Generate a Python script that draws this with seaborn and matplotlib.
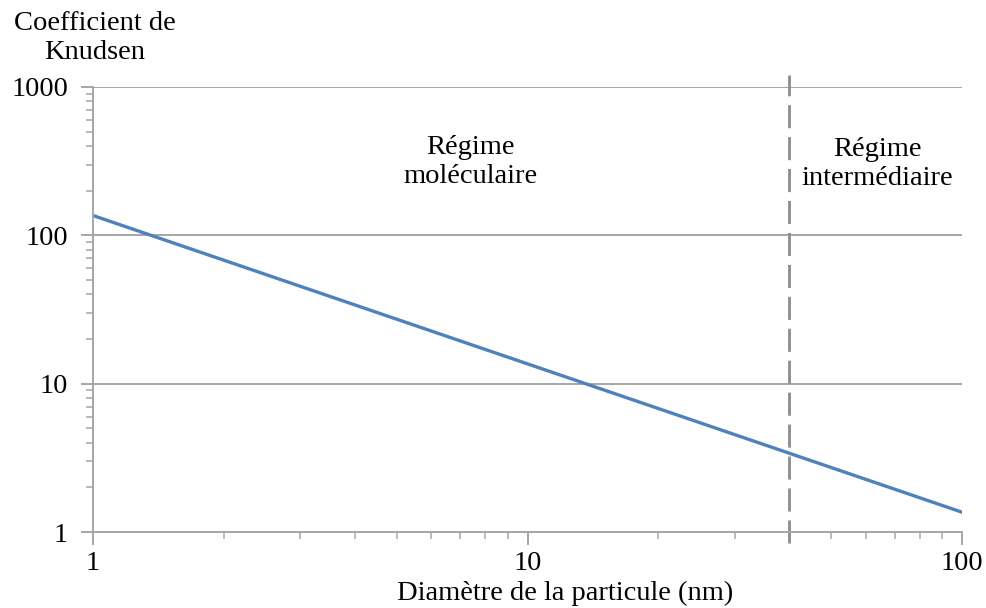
import numpy as np
import pandas as pd
import matplotlib
matplotlib.use("Agg")
import matplotlib.pyplot as plt
import seaborn as sns
from matplotlib.ticker import LogLocator, NullFormatter, FixedLocator, FixedFormatter

# Knudsen number vs particle diameter
diametre = [1, 100]
knudsen = [136, 1.36]
limite_regime = 40
x_ticks = [1, 10, 100]
y_ticks = [1, 10, 100, 1000]

BLUE = "#4F81BD"
GREY = "#A6A6A6"
FS = 20.5

sns.set_theme(style="white")
plt.rcParams['font.family'] = ['Liberation Serif', 'DejaVu Serif']
plt.rcParams['text.color'] = 'black'

fig = plt.figure(figsize=(9.86, 6.08), dpi=100)
ax = fig.add_axes([93 / 986, 1 - 532 / 608, 869 / 986, 445 / 608])

data = pd.DataFrame({'d': diametre, 'kn': knudsen})
sns.lineplot(data=data, x='d', y='kn', ax=ax, color=BLUE, linewidth=2.4)
ax.axvline(limite_regime, ymin=-11 / 445, ymax=1 + 12 / 445, clip_on=False,
           color="#8C8C8C", linewidth=2.0, dashes=(8.3, 3.2))

ax.set_xscale('log')
ax.set_yscale('log')
ax.set_xlim(1, 100)
ax.set_ylim(1, 1000)

ax.xaxis.set_major_locator(FixedLocator(x_ticks))
ax.xaxis.set_major_formatter(FixedFormatter([str(v) for v in x_ticks]))
ax.yaxis.set_major_locator(FixedLocator(y_ticks))
ax.yaxis.set_major_formatter(FixedFormatter([str(v) for v in y_ticks]))
ax.xaxis.set_minor_locator(LogLocator(base=10, subs=np.arange(2, 10)))
ax.yaxis.set_minor_locator(LogLocator(base=10, subs=np.arange(2, 10)))
ax.xaxis.set_minor_formatter(NullFormatter())
ax.yaxis.set_minor_formatter(NullFormatter())

ax.grid(axis='y', which='major', color=GREY, linewidth=1.4)
ax.grid(axis='x', visible=False)
for side in ['top', 'right']:
    ax.spines[side].set_visible(False)
for side in ['left', 'bottom']:
    ax.spines[side].set_color(GREY)
    ax.spines[side].set_linewidth(1.4)

ax.tick_params(axis='both', which='major', direction='out', length=9, width=1.4,
               color=GREY, labelsize=FS, labelcolor='black', bottom=True, left=True)
ax.tick_params(axis='both', which='minor', direction='out', length=5, width=1.1,
               color=GREY, bottom=True, left=True)
ax.tick_params(axis='y', which='major', pad=9)
ax.tick_params(axis='x', which='major', pad=5)

ax.set_xlabel('Diamètre de la particule (nm)', fontsize=FS, color='black')
ax.xaxis.set_label_coords((565 - 93) / 869, -(593 - 532) / 445)
ax.xaxis.label.set_va('center')
ax.set_ylabel('')
fig.text(95 / 986, 1 - 38 / 608, 'Coefficient de\nKnudsen', ha='center', va='center',
         fontsize=FS, linespacing=1.2)

ax.text(470 / 986, 1 - 162 / 608, 'Régime\nmoléculaire', transform=fig.transFigure,
        ha='center', va='center', fontsize=FS, linespacing=1.2)
ax.text(877 / 986, 1 - 164 / 608, 'Régime\nintermédiaire', transform=fig.transFigure,
        ha='center', va='center', fontsize=FS, linespacing=1.2)

fig.savefig('out.png', dpi=100, facecolor='white')
